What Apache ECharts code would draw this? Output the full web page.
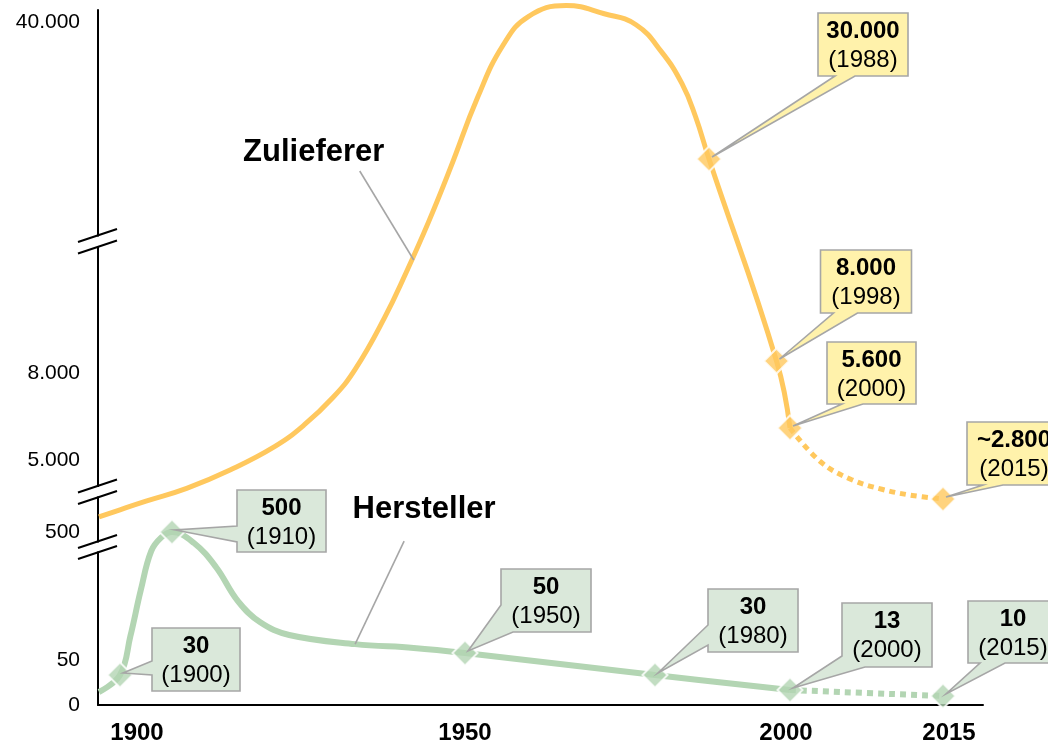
<!DOCTYPE html>
<html><head><meta charset="utf-8">
<script src="https://cdn.jsdelivr.net/npm/echarts@6/dist/echarts.min.js"></script>
<style>html,body{margin:0;padding:0;background:#fff}#c{width:1048px;height:747px}</style>
</head><body><div id="c"></div>
<script>
// ---------------- DATA ----------------
const zulYears  = [1896,1900,1905,1912,1918,1924,1928,1932,1935,1939,1942,1945,1948,1952,1956,1960,1966,1972,1977,1981,1984,1986,1988,1998,2000];
const zulValues = [1550,2050,2650,3400,4450,5250,5700,6700,7700,12700,17700,23100,29000,34500,38300,40400,41200,40600,39800,37800,35500,33100,30000,8000,5600];
const zulTailYears  = [2000,2003,2006,2009,2012,2015];
const zulTailValues = [5600,4900,3900,3350,3000,2800];

const herYears  = [1896,1900,1902,1904,1906,1908,1910,1913,1916,1919,1922,1926,1935,1943,1950,1980,2000];
const herValues = [12,30,113,284,429,481,500,459,370,243,165,117,83,69,50,30,13];
const herTailYears  = [2000,2015];
const herTailValues = [13,10];

const zulLabelYears  = [1988,1998,2000,2015];
const zulLabelValues = [30000,8000,5600,2800];
const zulLabelTexts  = ['30.000','8.000','5.600','~2.800'];

const herLabelYears  = [1900,1910,1950,1980,2000,2015];
const herLabelValues = [30,500,50,30,13,10];
const herLabelTexts  = ['30','500','50','30','13','10'];

const seriesNames = ['Zulieferer','Hersteller'];
const nameAnchorYears  = [1943,1935];
const nameAnchorValues = [19000,83];

const yTicks = [0,50,500,5000,8000,40000];
const yTickLabels = ['0','50','500','5.000','8.000','40.000'];
const xTicks = [1900,1950,2000,2015];
const xTickLabels = ['1900','1950','2000','2015'];

// ---------------- LAYOUT (broken / schematic axes) ----------------
const yKnots = [[0,0],[10,9],[13,15],[30,30],[50,52],[500,173],[2800,206],[5000,245],[5600,277],[8000,344],[30000,546],[40000,683]];
const xKnots = [[1896,99],[1900,120],[1910,172],[1950,465],[1980,655],[2000,790],[2015,943]];
function warp(knots, v){
  for (let i=0;i<knots.length-1;i++){
    const a0=knots[i][0],b0=knots[i][1],a1=knots[i+1][0],b1=knots[i+1][1];
    if (v<=a1 || i===knots.length-2) return b0+(v-a0)*(b1-b0)/(a1-a0);
  }
}
const xW = v => warp(xKnots, v);
const yW = v => warp(yKnots, v);
const pairs = (xs, ys) => xs.map((x,i)=>[xW(x), yW(ys[i])]);

const FONT = "'Liberation Sans', Arial, sans-serif";
const zulColor='#FFC85E', zulFill='#FFF2AB', herColor='#B3D5B3', herFill='#DAE8DA', bord='#A6A6A6';

// callout boxes: offset of box top-left from marker, size, tail
const zulCallout = [
  {dx:109,dy:-146,w:90,h:63,tail:'bottom',a:17,b:37},
  {dx:44,dy:-111,w:91,h:63,tail:'bottom',a:13,b:37},
  {dx:37,dy:-86,w:89,h:62,tail:'bottom',a:15,b:36},
  {dx:24,dy:-77,w:94,h:63,tail:'bottom',a:16,b:36}
];
const herCallout = [
  {dx:32,dy:-47,w:88,h:63,tail:'left',a:33,b:47},
  {dx:65,dy:-42,w:89,h:62,tail:'left',a:36,b:52},
  {dx:36,dy:-84,w:90,h:63,tail:'corner',a:36,b:12},
  {dx:53,dy:-86,w:90,h:63,tail:'left',a:36,b:56},
  {dx:52,dy:-87,w:90,h:64,tail:'corner',a:53,b:23},
  {dx:25,dy:-95,w:90,h:62,tail:'bottom',a:12,b:37}
];
const nameLayout = [
  {tx:-100,ty:-108,lx:-54,ly:-89},
  {tx:69,ty:-135,lx:49,ly:-103}
];
const xNudge = {1900:17,2000:-4,2015:6};
const yNudge = {50:7,8000:12};

function calloutRenderer(layouts, texts, fill){
  return function(params, api){
    const p = api.coord([api.value(0), api.value(1)]);
    const L = layouts[params.dataIndex];
    const l = p[0]+L.dx, t = p[1]+L.dy, w=L.w, h=L.h;
    const tip = [p[0]+3, p[1]-2];
    let pts;
    if (L.tail==='bottom') pts=[[l,t],[l+w,t],[l+w,t+h],[l+L.b,t+h],tip,[l+L.a,t+h],[l,t+h]];
    else if (L.tail==='left') pts=[[l,t],[l+w,t],[l+w,t+h],[l,t+h],[l,t+L.b],tip,[l,t+L.a]];
    else pts=[[l,t],[l+w,t],[l+w,t+h],[l+L.b,t+h],tip,[l,t+L.a]];
    const yr = api.value(2);
    return {type:'group', children:[
      {type:'polygon', shape:{points:pts}, style:{fill:fill, stroke:bord, lineWidth:1.6}},
      {type:'text', style:{text:texts[params.dataIndex], x:l+w/2, y:t+18, align:'center', verticalAlign:'middle', font:'bold 24px '+FONT, fill:'#000'}},
      {type:'text', style:{text:'('+yr+')', x:l+w/2, y:t+47, align:'center', verticalAlign:'middle', font:'24px '+FONT, fill:'#000'}}
    ]};
  };
}

const chart = echarts.init(document.getElementById('c'), null, {renderer:'canvas'});
const yTickPos = yTicks.map(yW);
const xTickPos = xTicks.map(xW);

const option = {
  animation:false,
  backgroundColor:'#fff',
  grid:{left:98,right:65,top:10,bottom:42,containLabel:false},
  xAxis:{type:'value',min:98,max:983,
    axisLine:{show:true,lineStyle:{color:'#000',width:2}},
    axisTick:{show:false}, splitLine:{show:false},
    axisLabel:{customValues:xTickPos, margin:16,
      formatter:function(v){
        const i = xTickPos.findIndex(p=>Math.abs(p-v)<0.5);
        if(i<0) return '';
        const n = xNudge[xTicks[i]]||0;
        if(n>0) return '{r'+i+'|'+xTickLabels[i]+'}';
        if(n<0) return '{l'+i+'|'+xTickLabels[i]+'}';
        return '{c|'+xTickLabels[i]+'}';
      },
      rich:{}
    }
  },
  yAxis:{type:'value',min:0,max:695,
    axisLine:{show:true,lineStyle:{color:'#000',width:2}},
    axisTick:{show:false}, splitLine:{show:false},
    axisLabel:{customValues:yTickPos, margin:18,
      formatter:function(v){
        const i = yTickPos.findIndex(p=>Math.abs(p-v)<0.5);
        if(i<0) return '';
        return '{t'+i+'|'+yTickLabels[i]+'}';
      },
      rich:{}
    }
  },
  series:[
    {type:'line', data:pairs(zulYears,zulValues), smooth:0.45, showSymbol:false, symbol:'none', clip:false, z:2,
      lineStyle:{color:zulColor,width:5}},
    {type:'line', data:pairs(zulTailYears,zulTailValues), smooth:0.4, showSymbol:false, symbol:'none', clip:false, z:2,
      lineStyle:{color:zulColor,width:5,type:[6,5],cap:'butt'}},
    {type:'line', data:pairs(herYears,herValues), smooth:0.4, showSymbol:false, symbol:'none', clip:false, z:2,
      lineStyle:{color:herColor,width:6}},
    {type:'line', data:pairs(herTailYears,herTailValues), smooth:0.4, showSymbol:false, symbol:'none', clip:false, z:2,
      lineStyle:{color:herColor,width:6,type:[6,5],cap:'butt'}},
    {type:'scatter', data:pairs(zulLabelYears,zulLabelValues), symbol:'diamond', symbolSize:25, clip:false, z:3,
      itemStyle:{color:zulColor,borderColor:'#fff',borderWidth:2}},
    {type:'scatter', data:pairs(herLabelYears,herLabelValues), symbol:'diamond', symbolSize:25, clip:false, z:3,
      itemStyle:{color:herColor,borderColor:'#fff',borderWidth:2}},
    {type:'custom', z:5, clip:false,
      data:zulLabelYears.map((y,i)=>[xW(y),yW(zulLabelValues[i]),y]),
      renderItem:calloutRenderer(zulCallout, zulLabelTexts, zulFill)},
    {type:'custom', z:5, clip:false,
      data:herLabelYears.map((y,i)=>[xW(y),yW(herLabelValues[i]),y]),
      renderItem:calloutRenderer(herCallout, herLabelTexts, herFill)},
    {type:'custom', z:5, clip:false,
      data:nameAnchorYears.map((y,i)=>[xW(y),yW(nameAnchorValues[i])]),
      renderItem:function(params, api){
        const p = api.coord([api.value(0), api.value(1)]);
        const L = nameLayout[params.dataIndex];
        return {type:'group', children:[
          {type:'line', shape:{x1:p[0],y1:p[1],x2:p[0]+L.lx,y2:p[1]+L.ly}, style:{stroke:bord,lineWidth:1.6}},
          {type:'text', style:{text:seriesNames[params.dataIndex], x:p[0]+L.tx, y:p[1]+L.ty, align:'center', verticalAlign:'middle', font:'bold 31px '+FONT, fill:'#000'}}
        ]};
      }}
  ]
};
// rich styles for tick labels (nudges)
const xr = option.xAxis.axisLabel.rich;
const xBase = {fontFamily:FONT,fontSize:24,fontWeight:'bold',color:'#000'};
xr.c = Object.assign({}, xBase);
xTicks.forEach((t,i)=>{
  const n = xNudge[t]||0;
  xr['r'+i] = Object.assign({padding:[0,0,0,2*Math.max(n,0)]}, xBase);
  xr['l'+i] = Object.assign({padding:[0,2*Math.max(-n,0),0,0]}, xBase);
});
const yr = option.yAxis.axisLabel.rich;
yTicks.forEach((t,i)=>{
  const n = yNudge[t]||0;
  yr['t'+i] = {fontFamily:FONT,fontSize:21,color:'#000',padding:[2*n,0,0,0]};
});
// axis break marks
function brk(yc){
  return [
    {type:'line',shape:{x1:78,y1:yc+6.5,x2:117,y2:yc-6.5},style:{stroke:'#000',lineWidth:2},z:10}
  ];
}
const breaks = [[235.5,247],[486,497.5],[541.5,552.5]];
const g = [];
breaks.forEach(b=>{
  g.push({type:'rect',shape:{x:95,y:b[0]+1,width:6,height:b[1]-b[0]-2},style:{fill:'#fff'},z:9});
  g.push(...brk(b[0]),...brk(b[1]));
});
option.graphic = g;
chart.setOption(option);
</script></body></html>
